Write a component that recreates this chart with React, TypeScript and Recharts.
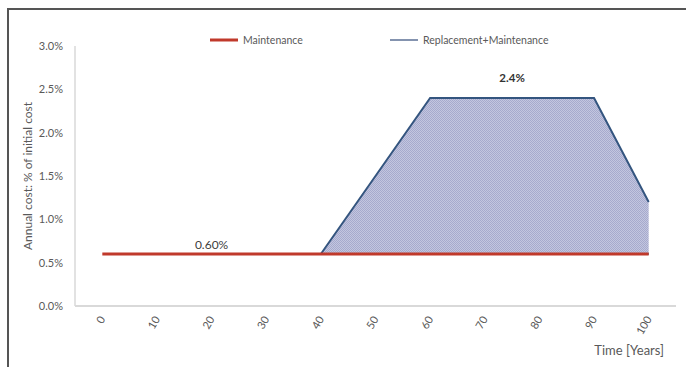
import {
  Area,
  ComposedChart,
  Legend,
  Line,
  ReferenceDot,
  XAxis,
  YAxis,
} from "recharts";

// years on the horizontal axis
const years = [0, 10, 20, 30, 40, 50, 60, 70, 80, 90, 100];
// annual cost, % of initial cost
const maintenanceCost = [0.6, 0.6, 0.6, 0.6, 0.6, 0.6, 0.6, 0.6, 0.6, 0.6, 0.6];
const replacementCost = [null, null, null, null, 0.6, 1.5, 2.4, 2.4, 2.4, 2.4, 1.2];
const yTicks = [0, 0.5, 1, 1.5, 2, 2.5, 3];

// where the two value callouts sit
const maintenanceLabelYear = 20;
const plateauLabelYear = 75;
const plateauValue = 2.4;

const legendOrder = ["Maintenance", "Replacement+Maintenance"];

const data = years.map((year, i) => ({
  year,
  maintenance: maintenanceCost[i],
  band: replacementCost[i] == null ? null : [maintenanceCost[i], replacementCost[i]],
}));

const FONT = "Lato, 'Open Sans', sans-serif";
const RED = "#c0392b";
const NAVY = "#34557f";

function YearTick({ x, y, payload }: any) {
  return (
    <g transform={`translate(${x},${y})`}>
      <text
        x={0}
        y={0}
        dy={4}
        textAnchor="end"
        transform="rotate(-60)"
        fill="#595959"
        fontSize={11}
        fontFamily={FONT}
      >
        {payload.value}
      </text>
    </g>
  );
}

function LegendBox({ payload }: any) {
  const items = [...(payload || [])].sort(
    (a, b) => legendOrder.indexOf(a.value) - legendOrder.indexOf(b.value)
  );
  return (
    <div style={{ display: "flex", fontFamily: FONT, fontSize: 10.5, color: "#595959" }}>
      {items.map((entry: any, i: number) => (
        <div
          key={entry.value}
          style={{ display: "flex", alignItems: "center", width: i === 0 ? 180 : 200 }}
        >
          <svg width={28} height={10} style={{ marginRight: 5 }}>
            <line
              x1={0}
              y1={5}
              x2={28}
              y2={5}
              stroke={entry.value === "Maintenance" ? RED : "#5b6f95"}
              strokeWidth={entry.value === "Maintenance" ? 3 : 1.5}
            />
          </svg>
          <span>{entry.value}</span>
        </div>
      ))}
    </div>
  );
}

export default function App() {
  return (
    <div
      style={{
        position: "fixed",
        left: 0,
        top: 0,
        width: 686,
        height: 367,
        background: "#fff",
        overflow: "hidden",
      }}
    >
      <div
        style={{
          position: "absolute",
          left: 7,
          top: 8,
          width: 679,
          height: 359,
          borderTop: "2px solid #555",
          borderLeft: "2px solid #555",
          boxSizing: "border-box",
        }}
      />
      <ComposedChart
        width={686}
        height={367}
        data={data}
        margin={{ top: 34, right: 10, bottom: 0, left: 15 }}
        style={{ position: "absolute", left: 0, top: 0 }}
      >
        <defs>
          {/* fine checker hatch for the replacement band */}
          <pattern id="hatch" width={2} height={2} patternUnits="userSpaceOnUse">
            <rect width={2} height={2} fill="#c3c6df" />
            <rect x={0} y={0} width={1} height={1} fill="#a6aacd" />
            <rect x={1} y={1} width={1} height={1} fill="#a6aacd" />
          </pattern>
        </defs>
        <XAxis
          dataKey="year"
          type="number"
          domain={[-5, 105]}
          ticks={years}
          height={61}
          tickSize={0}
          tickMargin={11}
          tick={<YearTick />}
          axisLine={{ stroke: "#d9d9d9", strokeWidth: 2 }}
          label={{
            value: "Time [Years]",
            position: "insideBottomRight",
            offset: 12,
            fill: "#595959",
            fontSize: 13,
            fontFamily: FONT,
          }}
        />
        <YAxis
          type="number"
          domain={[0, 3]}
          ticks={yTicks}
          width={60}
          tickSize={0}
          tickMargin={12}
          tickFormatter={(v: number) => `${v.toFixed(1)}%`}
          tick={{ fill: "#595959", fontSize: 11, fontFamily: FONT }}
          axisLine={{ stroke: "#d9d9d9", strokeWidth: 1.5 }}
          label={{
            value: "Annual cost: % of initial cost",
            angle: -90,
            position: "insideLeft",
            offset: 13,
            fill: "#595959",
            fontSize: 12,
            fontFamily: FONT,
            style: { textAnchor: "middle" },
          }}
        />
        <Legend
          verticalAlign="top"
          content={<LegendBox />}
          wrapperStyle={{ top: 34, left: 210, width: 420 }}
        />
        <Area
          dataKey="band"
          name="Replacement+Maintenance"
          stroke={NAVY}
          strokeWidth={2}
          fill="url(#hatch)"
          fillOpacity={1}
          dot={false}
          activeDot={false}
          isAnimationActive={false}
        />
        <Line
          dataKey="maintenance"
          name="Maintenance"
          stroke={RED}
          strokeWidth={3}
          dot={false}
          activeDot={false}
          isAnimationActive={false}
        />
        <ReferenceDot
          x={maintenanceLabelYear}
          y={maintenanceCost[years.indexOf(maintenanceLabelYear)]}
          r={0}
          fill="none"
          stroke="none"
          label={{
            value: `${maintenanceCost[years.indexOf(maintenanceLabelYear)].toFixed(2)}%`,
            position: "top",
            offset: 5,
            fill: "#404040",
            fontSize: 12,
            fontFamily: FONT,
          }}
        />
        <ReferenceDot
          x={plateauLabelYear}
          y={plateauValue}
          r={0}
          fill="none"
          stroke="none"
          label={{
            value: `${plateauValue.toFixed(1)}%`,
            position: "top",
            offset: 16,
            fill: "#333",
            fontSize: 11.5,
            fontWeight: "bold",
            fontFamily: FONT,
          }}
        />
      </ComposedChart>
    </div>
  );
}
